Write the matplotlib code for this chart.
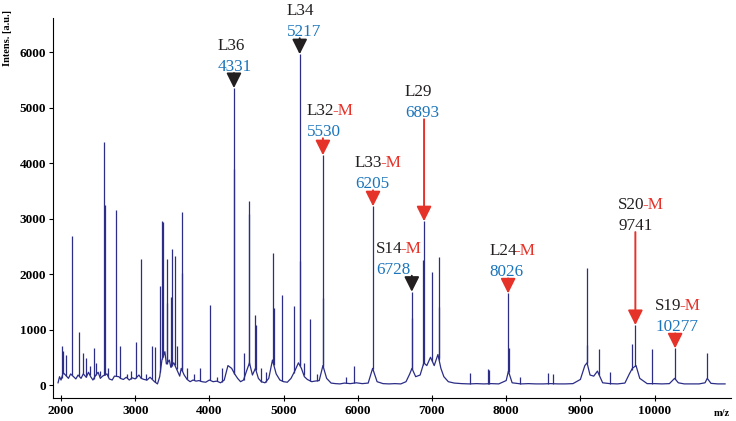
import numpy as np
import matplotlib
matplotlib.use("Agg")
import matplotlib.pyplot as plt

plt.rcParams['font.family'] = ['Liberation Serif', 'DejaVu Serif']

# baseline of the spectrum (m/z, intensity)
base_mz = [1960, 1980, 2000, 2030, 2060, 2100, 2130, 2170, 2200, 2230,
           2270, 2300, 2340, 2370, 2400, 2430, 2470, 2500, 2530, 2560,
           2620, 2650, 2690, 2720, 2780, 2800, 2840, 2880, 2920, 2960,
           3000, 3050, 3080, 3120, 3160, 3200, 3260, 3300, 3330, 3360,
           3400, 3420, 3460, 3480, 3520, 3560, 3600, 3620, 3660, 3700,
           3740, 3780, 3820, 3860, 3900, 3950, 4000, 4050, 4100, 4150,
           4200, 4250, 4300, 4340, 4380, 4420, 4460, 4500, 4540, 4580,
           4620, 4660, 4700, 4750, 4800, 4850, 4900, 4950, 5000, 5050,
           5100, 5150, 5200, 5240, 5280, 5320, 5380, 5420, 5480, 5530,
           5580, 5640, 5700, 5760, 5820, 5900, 5980, 6060, 6140, 6200,
           6260, 6340, 6420, 6500, 6580, 6650, 6700, 6730, 6780, 6840,
           6890, 6930, 6980, 7030, 7080, 7120, 7160, 7220, 7300, 7400,
           7500, 7600, 7700, 7800, 7900, 8000, 8030, 8080, 8200, 8300,
           8400, 8500, 8600, 8700, 8800, 8900, 9000, 9060, 9090, 9130,
           9180, 9230, 9300, 9400, 9500, 9600, 9660, 9700, 9750, 9800,
           9900, 10000, 10100, 10200, 10270, 10320, 10400, 10500, 10600, 10680,
           10710, 10760, 10850, 10950]
base_int = [40, 150, 90, 220, 180, 120, 200, 150, 110, 180,
            120, 200, 140, 230, 150, 90, 180, 230, 120, 160,
            200, 110, 90, 160, 150, 120, 100, 140, 90, 130,
            110, 180, 120, 100, 90, 140, 60, 20, 150, 450,
            600, 380, 450, 320, 400, 280, 160, 300, 180, 100,
            60, 90, 70, 80, 60, 50, 90, 60, 70, 40,
            90, 350, 300, 200, 120, 60, 90, 250, 400, 180,
            300, 120, 60, 40, 120, 450, 200, 90, 60, 50,
            120, 250, 400, 300, 150, 100, 60, 70, 80, 350,
            120, 35, 25, 20, 35, 25, 40, 25, 35, 300,
            60, 25, 20, 25, 20, 60, 200, 300, 150, 180,
            400, 350, 500, 350, 550, 300, 150, 60, 35, 25,
            20, 25, 20, 25, 20, 80, 250, 40, 20, 25,
            20, 20, 25, 20, 20, 25, 100, 350, 400, 180,
            160, 250, 40, 25, 20, 35, 200, 300, 350, 120,
            25, 25, 20, 25, 120, 40, 20, 20, 20, 40,
            120, 30, 20, 20]

# peaks (m/z, intensity)
peak_mz = [2010, 2032, 2068, 2145, 2243, 2301, 2332, 2390, 2441, 2470,
           2520, 2584, 2592, 2640, 2742, 2800, 2890, 2940, 3011, 3083,
           3140, 3222, 3267, 3339, 3366, 3374, 3424, 3431, 3478, 3491,
           3531, 3560, 3627, 3635, 3700, 3790, 3869, 4009, 4100, 4170,
           4331, 4338, 4462, 4530, 4537, 4620, 4627, 4700, 4760, 4862,
           4867, 4974, 5135, 5217, 5224, 5270, 5351, 5450, 5530, 5537,
           5842, 5954, 6205, 6728, 6735, 6880, 6893, 7004, 7090, 7097,
           7513, 7755, 7769, 8026, 8033, 8186, 8559, 8635, 9085, 9092,
           9255, 9398, 9690, 9741, 9960, 10277, 10711]
peak_int = [700, 620, 540, 2690, 950, 580, 480, 350, 670, 400,
            250, 4370, 3240, 300, 3150, 700, 200, 250, 770, 2270,
            200, 700, 690, 1780, 2960, 2940, 2270, 1470, 1590, 2450,
            2320, 700, 3120, 2025, 300, 200, 300, 1440, 150, 300,
            5350, 3885, 580, 3315, 3075, 1260, 1080, 300, 230, 2372,
            1385, 1620, 1430, 5960, 2235, 400, 1185, 200, 4140, 1560,
            150, 340, 3220, 1680, 1200, 2250, 2950, 2040, 2300, 1410,
            215, 280, 270, 1650, 665, 150, 220, 200, 2100, 720,
            640, 240, 740, 1080, 640, 660, 570]

# annotated peaks
lab_name = ['L36', 'L34', 'L32', 'L33', 'L29', 'S14', 'L24', 'S20', 'S19']
lab_suffix = ['', '', '-M', '-M', '', '-M', '-M', '-M', '-M']
lab_mz = [4331, 5217, 5530, 6205, 6893, 6728, 8026, 9741, 10277]
lab_top = [5350, 5960, 4140, 3220, 2950, 1680, 1650, 1080, 660]
lab_arrow = ['black', 'black', 'red', 'red', 'red', 'black', 'red', 'red', 'red']
lab_numcol = ['blue', 'blue', 'blue', 'blue', 'blue', 'blue', 'blue', 'black', 'blue']
# layout in pixels: arrow length, text left offset
arrow_len = [15, 16, 17, 16, 102, 16, 15, 93, 15]
text_dx = [-16, -13, -16, -18, -19, -36, -19, -17, -20]

colors = {'black': '#231f20', 'red': '#e6332a', 'blue': '#1b75bc'}
line_col = '#2b2d86'

fig = plt.figure(figsize=(7.36, 4.21), dpi=100)
ax = fig.add_axes([53 / 736, 23 / 421, 678 / 736, 380 / 421])

ax.plot(base_mz, base_int, color=line_col, lw=0.9)
ymin = np.interp(peak_mz, base_mz, base_int)
ax.vlines(peak_mz, ymin, peak_int, color=line_col, lw=0.9)

ax.set_xlim(1892, 11030)
ax.set_ylim(-234, 6613)

for i in range(len(lab_name)):
    xy = (lab_mz[i], lab_top[i])
    ac = colors[lab_arrow[i]]
    ax.annotate('', xy=xy, xytext=(0, arrow_len[i]), textcoords='offset pixels',
                arrowprops=dict(arrowstyle='-|>,head_length=0.9,head_width=0.45',
                                color=ac, lw=1.4, shrinkA=0, shrinkB=0))
    ax.annotate(str(lab_mz[i]), xy=xy, xytext=(text_dx[i], arrow_len[i] + 2),
                textcoords='offset pixels', ha='left', va='baseline',
                fontsize=12.3, color=colors[lab_numcol[i]])
    t = ax.annotate(lab_name[i], xy=xy, xytext=(text_dx[i], arrow_len[i] + 23),
                    textcoords='offset pixels', ha='left', va='baseline',
                    fontsize=12.3, color=colors['black'])
    if lab_suffix[i]:
        ax.annotate(lab_suffix[i], xy=(1, 0), xycoords=t, xytext=(-2, 0),
                    textcoords='offset pixels', ha='left', va='bottom',
                    fontsize=12.3, color=colors['red'])

ax.spines['top'].set_visible(False)
ax.spines['right'].set_visible(False)
ax.set_xticks([2000, 3000, 4000, 5000, 6000, 7000, 8000, 9000, 10000])
ax.set_yticks([0, 1000, 2000, 3000, 4000, 5000, 6000])
ax.tick_params(axis='x', direction='inout', length=4, pad=3, labelsize=9.5)
ax.tick_params(axis='y', direction='out', length=3, pad=2, labelsize=9.5)
for lbl in ax.get_xticklabels() + ax.get_yticklabels():
    lbl.set_fontweight('bold')

fig.text(8 / 736, 1 - 10 / 421, 'Intens. [a.u.]', rotation=90, ha='center', va='top',
         fontsize=7.5, fontweight='bold')
fig.text(722 / 736, 1 - 413 / 421, 'm/z', ha='center', va='center',
         fontsize=7.5, fontweight='bold')

fig.savefig('out.png', dpi=100)
